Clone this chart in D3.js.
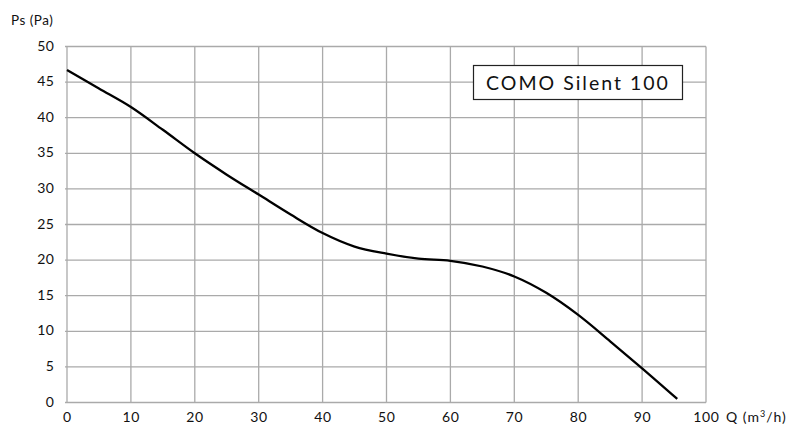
<!DOCTYPE html>
<html><head><meta charset="utf-8">
<script src="https://cdn.jsdelivr.net/npm/d3@7"></script>
<style>body{margin:0;background:#fff}svg{display:block}text{font-family:"Lato","Noto Sans",sans-serif;fill:#111}</style>
</head><body><svg id="c" width="795" height="425"></svg>
<script>
const flowQ = [0,5,10,15,20,25,30,35,40,45,50,55,60,65,70,75,80,85,90,95.5];
const pressure = [46.7,44.1,41.5,38.3,35.0,32.0,29.2,26.4,23.8,21.9,20.9,20.2,19.9,19.1,17.7,15.4,12.3,8.6,4.8,0.5];
const xTicks = [0,10,20,30,40,50,60,70,80,90,100];
const yTicks = [0,5,10,15,20,25,30,35,40,45,50];
const title = "COMO Silent 100";

const svg = d3.select("#c");
const x = d3.scaleLinear().domain([0,100]).range([67,706]);
const y = d3.scaleLinear().domain([0,50]).range([402.5,46.5]);

const grid = svg.append("g").attr("stroke","#aaaaaa").attr("stroke-width",1.3);
grid.selectAll(".v").data(xTicks).join("line")
  .attr("x1",d=>x(d)).attr("x2",d=>x(d)).attr("y1",y(0)).attr("y2",y(50));
grid.selectAll(".h").data(yTicks).join("line")
  .attr("x1",x(0)-2).attr("x2",x(100)).attr("y1",d=>y(d)).attr("y2",d=>y(d));

svg.append("g").selectAll("text").data(xTicks).join("text")
  .attr("x",d=>x(d)+0.3).attr("y",422).attr("text-anchor","middle")
  .attr("font-size",14).attr("letter-spacing",0.6).text(d=>d);
svg.append("g").selectAll("text").data(yTicks).join("text")
  .attr("x",54.6).attr("y",d=>y(d)+4).attr("text-anchor","end")
  .attr("font-size",14).attr("letter-spacing",0.6).text(d=>d);

svg.append("text").attr("x",11).attr("y",25).attr("font-size",13.5).attr("letter-spacing",0.5).text("Ps (Pa)");
const ql = svg.append("text").attr("x",726).attr("y",422).attr("font-size",14).attr("letter-spacing",1);
ql.append("tspan").text("Q (m");
ql.append("tspan").attr("font-size",9).attr("dy",-5).text("3");
ql.append("tspan").attr("dy",5).text("/h)");

const line = d3.line().x((d,i)=>x(flowQ[i])).y(d=>y(d)).curve(d3.curveMonotoneX);
svg.append("path").datum(pressure).attr("d",line)
  .attr("fill","none").attr("stroke","#000").attr("stroke-width",2.3);

svg.append("rect").attr("x",473.5).attr("y",65.5).attr("width",209).attr("height",34)
  .attr("fill","#fff").attr("stroke","#222").attr("stroke-width",1.2);
svg.append("text").attr("x",578).attr("y",90).attr("text-anchor","middle")
  .attr("font-size",19.5).attr("letter-spacing",2).text(title);
</script></body></html>
